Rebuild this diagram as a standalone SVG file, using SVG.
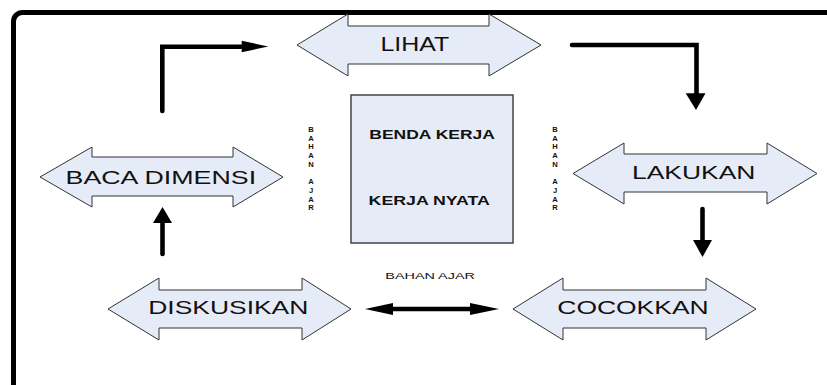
<svg xmlns="http://www.w3.org/2000/svg" width="827" height="385" viewBox="0 0 827 385">
  <style>
    .frame { fill: none; stroke: #000; stroke-width: 5; }
    .dbl { fill: #e6ecf7; stroke: #333; stroke-width: 1; stroke-linejoin: miter; }
    .box { fill: #e6ecf7; stroke: #444; stroke-width: 1.5; }
    .lbl { font-family: "Liberation Sans", Arial, sans-serif; fill: #111; text-anchor: start; }
    .big { font-size: 18px; }
    .bold { font-size: 12.5px; font-weight: bold; }
    .small { font-size: 9px; }
    .vert { font-family: "Liberation Sans", Arial, sans-serif; font-size: 7.6px; font-weight: bold; fill: #111; text-anchor: middle; }
    .line { fill: none; stroke: #000; stroke-width: 4.6; stroke-linecap: round; stroke-linejoin: miter; }
    .head { fill: #000; stroke: none; }
  </style>

  <!-- outer frame, running past the right and bottom edges -->
  <rect class="frame" x="13.5" y="12.5" width="840" height="400" rx="9"/>

  <g id="lihat">
    <polygon class="dbl" points="297,45 348,14 348,26 489,26 489,14 541,45 489,76 489,64 348,64 348,76"/>
    <text class="lbl" font-size="19.5" transform="translate(380.5,50.5) scale(1.28,1)">LIHAT</text>
  </g>

  <g id="baca-dimensi">
    <polygon class="dbl" points="40,177 92,147 92,157 233,157 233,147 283,177 233,207 233,196 92,196 92,207"/>
    <text class="lbl big" transform="translate(65.5,184.3) scale(1.49,1)">BACA DIMENSI</text>
  </g>

  <g id="lakukan">
    <polygon class="dbl" points="573,173.5 624,143 624,154 767,154 767,143 817,173.5 767,204 767,192 624,192 624,204"/>
    <text class="lbl big" transform="translate(632,178.5) scale(1.47,1)">LAKUKAN</text>
  </g>

  <g id="diskusikan">
    <polygon class="dbl" points="108,309 159,278 159,290 302,290 302,278 351,309 302,340 302,328 159,328 159,340"/>
    <text class="lbl big" transform="translate(148.2,314.3) scale(1.47,1)">DISKUSIKAN</text>
  </g>

  <g id="cocokkan">
    <polygon class="dbl" points="513,309 563,278 563,290 706,290 706,278 756,309 706,340 706,328 563,328 563,340"/>
    <text class="lbl big" transform="translate(557.3,314.3) scale(1.47,1)">COCOKKAN</text>
  </g>

  <g id="benda-kerja">
    <rect class="box" x="351" y="95" width="162" height="148"/>
    <text class="lbl bold" transform="translate(369.3,139) scale(1.4,1)">BENDA KERJA</text>
    <text class="lbl bold" transform="translate(368.6,205) scale(1.42,1)">KERJA NYATA</text>
  </g>

  <g id="bahan-ajar-left">
    <text class="vert" x="311" y="132">B</text>
    <text class="vert" x="311" y="140.7">A</text>
    <text class="vert" x="311" y="149.4">H</text>
    <text class="vert" x="311" y="158.1">A</text>
    <text class="vert" x="311" y="166.8">N</text>
    <text class="vert" x="311" y="184.2">A</text>
    <text class="vert" x="311" y="192.9">J</text>
    <text class="vert" x="311" y="201.6">A</text>
    <text class="vert" x="311" y="210.3">R</text>
  </g>

  <g id="bahan-ajar-right">
    <text class="vert" x="555" y="132">B</text>
    <text class="vert" x="555" y="140.7">A</text>
    <text class="vert" x="555" y="149.4">H</text>
    <text class="vert" x="555" y="158.1">A</text>
    <text class="vert" x="555" y="166.8">N</text>
    <text class="vert" x="555" y="184.2">A</text>
    <text class="vert" x="555" y="192.9">J</text>
    <text class="vert" x="555" y="201.6">A</text>
    <text class="vert" x="555" y="210.3">R</text>
  </g>

  <g id="bahan-ajar-bottom">
    <text class="lbl small" transform="translate(385.3,279) scale(1.6,1)">BAHAN AJAR</text>
  </g>

  <g id="connectors">
    <!-- baca dimensi -> lihat -->
    <path class="line" d="M162.3,111 V46.7 H243"/>
    <polygon class="head" points="241.7,40.7 268.3,46.5 241.7,52.3"/>
    <!-- lihat -> lakukan -->
    <path class="line" d="M572,45 H696.5 V94"/>
    <polygon class="head" points="685.7,93.3 705.5,93.3 696,110"/>
    <!-- lakukan -> cocokkan -->
    <path class="line" d="M702.5,209 V241"/>
    <polygon class="head" points="693,240 712,240 702.5,257"/>
    <!-- diskusikan -> baca dimensi -->
    <path class="line" d="M162.5,254 V222"/>
    <polygon class="head" points="153,223 172,223 162.5,207"/>
    <!-- diskusikan <-> cocokkan -->
    <path class="line" d="M392,309 H471" stroke-linecap="butt"/>
    <polygon class="head" points="365,309 393,303 393,315"/>
    <polygon class="head" points="470,303 499,309 470,315"/>
  </g>
</svg>
